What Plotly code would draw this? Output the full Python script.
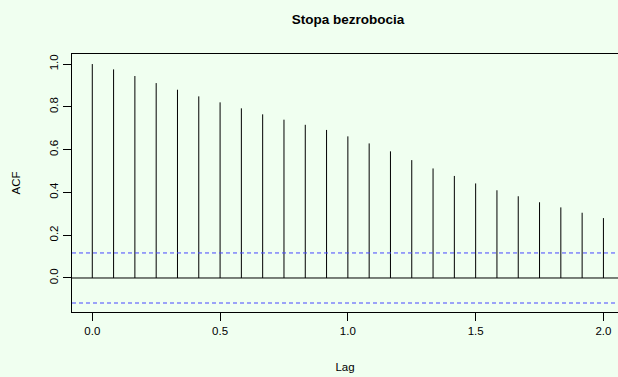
import plotly.graph_objects as go

title = "Stopa bezrobocia"
lags = [i / 12 for i in range(25)]
acf = [1.000, 0.975, 0.944, 0.911, 0.880, 0.849, 0.821, 0.793, 0.765, 0.740,
       0.716, 0.692, 0.662, 0.629, 0.592, 0.551, 0.512, 0.477, 0.442, 0.410,
       0.382, 0.354, 0.330, 0.305, 0.280]
ci = 0.117
xticks = [0.0, 0.5, 1.0, 1.5, 2.0]
xtick_labels = ["0.0", "0.5", "1.0", "1.5", "2.0"]
yticks = [0.0, 0.2, 0.4, 0.6, 0.8, 1.0]
ytick_labels = ["0.0", "0.2", "0.4", "0.6", "0.8", "1.0"]

xs, ys = [], []
for l, a in zip(lags, acf):
    xs += [l, l, None]
    ys += [0, a, None]

bg = "#F0FFF0"
fig = go.Figure()
fig.add_trace(go.Scatter(x=xs, y=ys, mode="lines",
                         line=dict(color="black", width=1),
                         hoverinfo="skip", showlegend=False))
for v in (ci, -ci):
    fig.add_shape(type="line", xref="paper", x0=0, x1=1, yref="y", y0=v, y1=v,
                  line=dict(color="rgb(70,70,255)", width=1, dash="4px,3px"))
fig.add_shape(type="line", xref="paper", x0=0, x1=1, yref="y", y0=0, y1=0,
              line=dict(color="black", width=1))

font = "Liberation Sans, Arial, Helvetica, sans-serif"
fig.update_layout(
    width=618, height=377,
    margin=dict(l=72, r=0, t=54, b=65),
    paper_bgcolor=bg, plot_bgcolor=bg,
    font=dict(family=font, size=11.5, color="black"),
    title=dict(text="<b>" + title + "</b>", x=348 / 618, xanchor="center",
               y=1 - 19 / 377, yanchor="middle", font=dict(size=13.5)),
    xaxis=dict(range=[-0.0794, 2.057], showgrid=False, zeroline=False,
               showline=True, mirror=True, linecolor="black", linewidth=1,
               ticks="outside", ticklen=8, tickcolor="black",
               tickvals=xticks, ticktext=xtick_labels,
               title=dict(text="Lag", standoff=27, font=dict(size=11.5))),
    yaxis=dict(range=[-0.159, 1.047], showgrid=False, zeroline=False,
               showline=True, mirror=False, linecolor="black", linewidth=1,
               ticks="outside", ticklen=8, tickcolor="black",
               tickvals=yticks, ticktext=ytick_labels, tickangle=-90,
               title=dict(text="ACF", standoff=25, font=dict(size=11.5))),
)
fig.write_html("out.html")
